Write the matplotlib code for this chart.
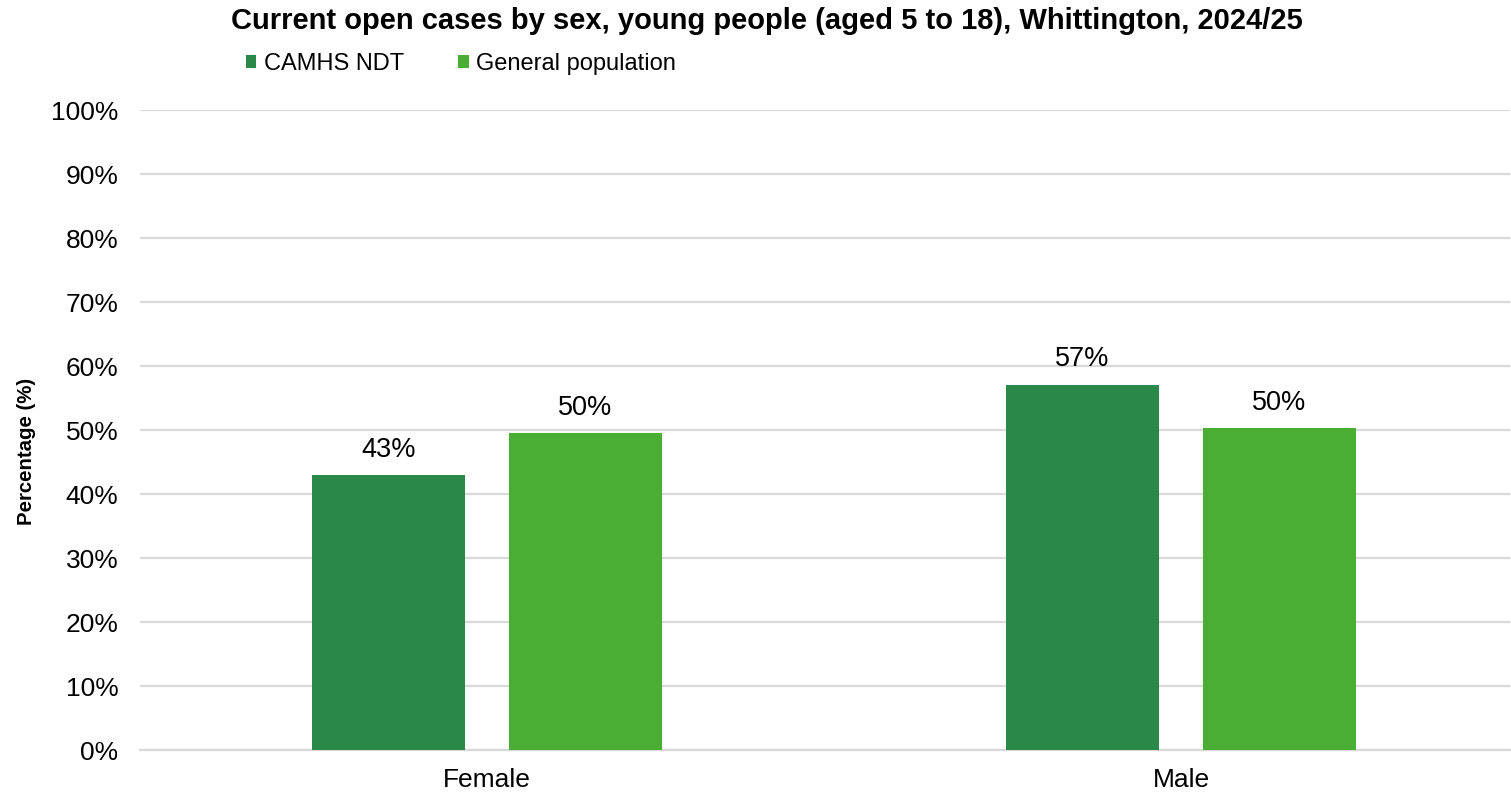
import numpy as np
import matplotlib.pyplot as plt

plt.rcParams['font.family'] = ['Liberation Sans', 'DejaVu Sans']

# open cases by sex, percentages
sexes = ['Female', 'Male']
camhs_ndt = [42.9, 57.1]
general_pop = [49.5, 50.3]
series_names = ['CAMHS NDT', 'General population']
colours = ['#2a8949', '#4aae34']

fig = plt.figure(figsize=(15.11, 7.94), dpi=100)
ax = fig.add_axes([140 / 1511, 44 / 794, 1370 / 1511, 640 / 794])

x = np.arange(len(sexes))
width = 0.221
offset = 0.142

bars1 = ax.bar(x - offset, camhs_ndt, width, color=colours[0], label=series_names[0], zorder=3)
bars2 = ax.bar(x + offset, general_pop, width, color=colours[1], label=series_names[1], zorder=3)

for bars, vals in [(bars1, camhs_ndt), (bars2, general_pop)]:
    for b, v in zip(bars, vals):
        ax.annotate(f'{v:.0f}%', (b.get_x() + b.get_width() / 2, v),
                    xytext=(0, 9), textcoords='offset points',
                    ha='center', va='bottom', fontsize=19.5)

ax.set_xlim(-0.5, 1.474)
ax.set_ylim(0, 100)
ax.set_yticks(np.arange(0, 101, 10))
ax.set_yticklabels([f'{t}%' for t in range(0, 101, 10)])
ax.set_xticks(x)
ax.set_xticklabels(sexes)
ax.tick_params(axis='both', length=0, labelsize=19)
ax.tick_params(axis='y', pad=15.5)
ax.tick_params(axis='x', pad=13)
ax.grid(axis='y', color='#d9d9d9', linewidth=1.6, zorder=0)
for side in ['top', 'right', 'left']:
    ax.spines[side].set_visible(False)
ax.spines['bottom'].set_color('#d9d9d9')
ax.spines['bottom'].set_linewidth(1.6)

fig.text(27 / 1511, 1 - 451 / 794, 'Percentage (%)', rotation=90, ha='center', va='center',
         fontsize=14.7, fontweight='bold')

fig.text(767 / 1511, 1 - 21 / 794,
         'Current open cases by sex, young people (aged 5 to 18), Whittington, 2024/25',
         ha='center', va='center', fontsize=21, fontweight='bold')

fig.legend(loc='center left', bbox_to_anchor=(234 / 1511, 1 - 64 / 794), ncol=2, frameon=False,
           fontsize=17, handlelength=0.45, handleheight=0.45, handletextpad=0.3,
           columnspacing=2.3, borderpad=0)

fig.savefig('out.png', dpi=100)
